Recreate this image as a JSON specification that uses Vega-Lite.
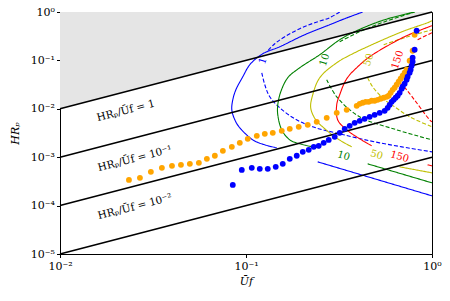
{
  "$schema": "https://vega.github.io/schema/vega-lite/v6.json",
  "autosize": {"type": "none"},
  "padding": {"left": 60, "top": 12, "right": 18, "bottom": 47},
  "width": 372,
  "height": 242,
  "config": {
    "font": "DejaVu Serif",
    "view": {"stroke": "black", "strokeWidth": 1},
    "axis": {"grid": false, "domainColor": "black", "tickColor": "black", "labelColor": "black", "titleColor": "black", "labelFont": "DejaVu Serif", "titleFont": "DejaVu Serif", "labelFontSize": 11, "titleFontSize": 11, "titleFontWeight": "normal", "tickSize": 3.5, "domainWidth": 1, "tickWidth": 1}
  },
  "datasets": {
    "gray": [{"x": 0.01, "y": 0.01, "top": 1}, {"x": 1, "y": 1, "top": 1}],
    "ratios": [
      {"ratio": "1", "x": 0.01, "y": 0.01}, {"ratio": "1", "x": 1, "y": 1},
      {"ratio": "0.1", "x": 0.01, "y": 0.001}, {"ratio": "0.1", "x": 1, "y": 0.1},
      {"ratio": "0.01", "x": 0.01, "y": 0.0001}, {"ratio": "0.01", "x": 1, "y": 0.01},
      {"ratio": "0.001", "x": 0.01, "y": 0.00001}, {"ratio": "0.001", "x": 1, "y": 0.001}
    ],
    "ratioLabels": [
      {"label": "HRₚ/Ūf = 1", "x": 0.02262, "y": 0.00909},
      {"label": "HRₚ/Ūf = 10⁻¹", "x": 0.02528, "y": 0.000924},
      {"label": "HRₚ/Ūf = 10⁻²", "x": 0.02528, "y": 0.000094}
    ],
    "curves": [
      {"Re": "1", "kind": "A", "seg": "1A1", "i": 0, "x": 0.424, "y": 1.0},
      {"Re": "1", "kind": "A", "seg": "1A1", "i": 1, "x": 0.3393, "y": 0.727},
      {"Re": "1", "kind": "A", "seg": "1A1", "i": 2, "x": 0.2818, "y": 0.546},
      {"Re": "1", "kind": "A", "seg": "1A1", "i": 3, "x": 0.207, "y": 0.3393},
      {"Re": "1", "kind": "A", "seg": "1A1", "i": 4, "x": 0.1519, "y": 0.1915},
      {"Re": "1", "kind": "A", "seg": "1A1", "i": 5, "x": 0.1231, "y": 0.1372},
      {"Re": "1", "kind": "A", "seg": "1A1", "i": 6, "x": 0.1048, "y": 0.0813},
      {"Re": "1", "kind": "A", "seg": "1A1", "i": 7, "x": 0.0961, "y": 0.0459},
      {"Re": "1", "kind": "A", "seg": "1A1", "i": 8, "x": 0.0882, "y": 0.0247},
      {"Re": "1", "kind": "A", "seg": "1A1", "i": 9, "x": 0.0849, "y": 0.0153},
      {"Re": "1", "kind": "A", "seg": "1A1", "i": 10, "x": 0.0839, "y": 0.00953},
      {"Re": "1", "kind": "A", "seg": "1A1", "i": 11, "x": 0.0871, "y": 0.00592},
      {"Re": "1", "kind": "A", "seg": "1A1", "i": 12, "x": 0.0926, "y": 0.00405},
      {"Re": "1", "kind": "A", "seg": "1A1", "i": 13, "x": 0.1088, "y": 0.00228},
      {"Re": "1", "kind": "A", "seg": "1A1", "i": 14, "x": 0.1262, "y": 0.0018},
      {"Re": "1", "kind": "A", "seg": "1A1", "i": 15, "x": 0.1463, "y": 0.00156},
      {"Re": "1", "kind": "A", "seg": "1A2", "i": 0, "x": 0.243, "y": 0.000801},
      {"Re": "1", "kind": "A", "seg": "1A2", "i": 1, "x": 1.0, "y": 0.000159},
      {"Re": "1", "kind": "B", "seg": "1B1", "i": 0, "x": 0.319, "y": 1.0},
      {"Re": "1", "kind": "B", "seg": "1B1", "i": 1, "x": 0.2818, "y": 0.762},
      {"Re": "1", "kind": "B", "seg": "1B1", "i": 2, "x": 0.2342, "y": 0.601},
      {"Re": "1", "kind": "B", "seg": "1B1", "i": 3, "x": 0.1945, "y": 0.4515},
      {"Re": "1", "kind": "B", "seg": "1B1", "i": 4, "x": 0.1616, "y": 0.3084},
      {"Re": "1", "kind": "B", "seg": "1B1", "i": 5, "x": 0.1428, "y": 0.221},
      {"Re": "1", "kind": "B", "seg": "1B1", "i": 6, "x": 0.1309, "y": 0.1583},
      {"Re": "1", "kind": "B", "seg": "1B2", "i": 0, "x": 0.1216, "y": 0.0555},
      {"Re": "1", "kind": "B", "seg": "1B2", "i": 1, "x": 0.1262, "y": 0.0314},
      {"Re": "1", "kind": "B", "seg": "1B2", "i": 2, "x": 0.1342, "y": 0.0177},
      {"Re": "1", "kind": "B", "seg": "1B2", "i": 3, "x": 0.1519, "y": 0.01049},
      {"Re": "1", "kind": "B", "seg": "1B2", "i": 4, "x": 0.1829, "y": 0.00621},
      {"Re": "1", "kind": "B", "seg": "1B2", "i": 5, "x": 0.2285, "y": 0.00424},
      {"Re": "1", "kind": "B", "seg": "1B2", "i": 6, "x": 0.319, "y": 0.00304},
      {"Re": "1", "kind": "B", "seg": "1B2", "i": 7, "x": 0.5232, "y": 0.00198},
      {"Re": "1", "kind": "B", "seg": "1B2", "i": 8, "x": 1.0, "y": 0.00129},
      {"Re": "10", "kind": "A", "seg": "10A1", "i": 0, "x": 0.8065, "y": 1.0},
      {"Re": "10", "kind": "A", "seg": "10A1", "i": 1, "x": 0.5565, "y": 0.693},
      {"Re": "10", "kind": "A", "seg": "10A1", "i": 2, "x": 0.3937, "y": 0.4104},
      {"Re": "10", "kind": "A", "seg": "10A1", "i": 3, "x": 0.319, "y": 0.2674},
      {"Re": "10", "kind": "A", "seg": "10A1", "i": 4, "x": 0.2491, "y": 0.1308},
      {"Re": "10", "kind": "A", "seg": "10A1", "i": 5, "x": 0.1945, "y": 0.0705},
      {"Re": "10", "kind": "A", "seg": "10A1", "i": 6, "x": 0.1677, "y": 0.0438},
      {"Re": "10", "kind": "A", "seg": "10A1", "i": 7, "x": 0.1538, "y": 0.0225},
      {"Re": "10", "kind": "A", "seg": "10A1", "i": 8, "x": 0.1482, "y": 0.0121},
      {"Re": "10", "kind": "A", "seg": "10A1", "i": 9, "x": 0.1482, "y": 0.00751},
      {"Re": "10", "kind": "A", "seg": "10A1", "i": 10, "x": 0.1557, "y": 0.00368},
      {"Re": "10", "kind": "A", "seg": "10A1", "i": 11, "x": 0.1719, "y": 0.00228},
      {"Re": "10", "kind": "A", "seg": "10A1", "i": 12, "x": 0.1945, "y": 0.00189},
      {"Re": "10", "kind": "A", "seg": "10A1", "i": 13, "x": 0.2285, "y": 0.00164},
      {"Re": "10", "kind": "A", "seg": "10A1", "i": 14, "x": 0.2491, "y": 0.00156},
      {"Re": "10", "kind": "A", "seg": "10A2", "i": 0, "x": 0.4509, "y": 0.000729},
      {"Re": "10", "kind": "A", "seg": "10A2", "i": 1, "x": 1.0, "y": 0.000295},
      {"Re": "10", "kind": "B", "seg": "10B1", "i": 0, "x": 0.319, "y": 0.243},
      {"Re": "10", "kind": "B", "seg": "10B1", "i": 1, "x": 0.4086, "y": 0.3914},
      {"Re": "10", "kind": "B", "seg": "10B1", "i": 2, "x": 0.5565, "y": 0.63},
      {"Re": "10", "kind": "B", "seg": "10B1", "i": 3, "x": 0.8065, "y": 1.0},
      {"Re": "10", "kind": "B", "seg": "10B2", "i": 0, "x": 0.2716, "y": 0.0398},
      {"Re": "10", "kind": "B", "seg": "10B2", "i": 1, "x": 0.3074, "y": 0.0177},
      {"Re": "10", "kind": "B", "seg": "10B2", "i": 2, "x": 0.4086, "y": 0.00683},
      {"Re": "10", "kind": "B", "seg": "10B2", "i": 3, "x": 0.6456, "y": 0.00368},
      {"Re": "10", "kind": "B", "seg": "10B2", "i": 4, "x": 1.0, "y": 0.00228},
      {"Re": "50", "kind": "A", "seg": "50A1", "i": 0, "x": 1.0, "y": 0.661},
      {"Re": "50", "kind": "A", "seg": "50A1", "i": 1, "x": 0.9471, "y": 0.601},
      {"Re": "50", "kind": "A", "seg": "50A1", "i": 2, "x": 0.7126, "y": 0.4104},
      {"Re": "50", "kind": "A", "seg": "50A1", "i": 3, "x": 0.5775, "y": 0.2941},
      {"Re": "50", "kind": "A", "seg": "50A1", "i": 4, "x": 0.4622, "y": 0.2009},
      {"Re": "50", "kind": "A", "seg": "50A1", "i": 5, "x": 0.384, "y": 0.1439},
      {"Re": "50", "kind": "A", "seg": "50A1", "i": 6, "x": 0.3074, "y": 0.0894},
      {"Re": "50", "kind": "A", "seg": "50A1", "i": 7, "x": 0.2491, "y": 0.0438},
      {"Re": "50", "kind": "A", "seg": "50A1", "i": 8, "x": 0.2285, "y": 0.0195},
      {"Re": "50", "kind": "A", "seg": "50A1", "i": 9, "x": 0.2228, "y": 0.01049},
      {"Re": "50", "kind": "A", "seg": "50A1", "i": 10, "x": 0.2371, "y": 0.00592},
      {"Re": "50", "kind": "A", "seg": "50A1", "i": 11, "x": 0.2617, "y": 0.00405},
      {"Re": "50", "kind": "A", "seg": "50A1", "i": 12, "x": 0.3112, "y": 0.0024},
      {"Re": "50", "kind": "A", "seg": "50A1", "i": 13, "x": 0.3701, "y": 0.00164},
      {"Re": "50", "kind": "A", "seg": "50A2", "i": 0, "x": 0.6699, "y": 0.000632},
      {"Re": "50", "kind": "A", "seg": "50A2", "i": 1, "x": 1.0, "y": 0.000475},
      {"Re": "50", "kind": "B", "seg": "50B1", "i": 0, "x": 0.5497, "y": 0.2107},
      {"Re": "50", "kind": "B", "seg": "50B1", "i": 1, "x": 0.7126, "y": 0.2941},
      {"Re": "50", "kind": "B", "seg": "50B1", "i": 2, "x": 1.0, "y": 0.4304},
      {"Re": "50", "kind": "B", "seg": "50B2", "i": 0, "x": 0.4509, "y": 0.0438},
      {"Re": "50", "kind": "B", "seg": "50B2", "i": 1, "x": 0.4797, "y": 0.0285},
      {"Re": "50", "kind": "B", "seg": "50B2", "i": 2, "x": 0.5565, "y": 0.0153},
      {"Re": "50", "kind": "B", "seg": "50B2", "i": 3, "x": 0.6298, "y": 0.011},
      {"Re": "50", "kind": "B", "seg": "50B2", "i": 4, "x": 0.7582, "y": 0.00683},
      {"Re": "50", "kind": "B", "seg": "50B2", "i": 5, "x": 1.0, "y": 0.00424},
      {"Re": "150", "kind": "A", "seg": "150A1", "i": 0, "x": 1.0, "y": 0.521},
      {"Re": "150", "kind": "A", "seg": "150A1", "i": 1, "x": 0.7305, "y": 0.3235},
      {"Re": "150", "kind": "A", "seg": "150A1", "i": 2, "x": 0.5775, "y": 0.2009},
      {"Re": "150", "kind": "A", "seg": "150A1", "i": 3, "x": 0.4622, "y": 0.119},
      {"Re": "150", "kind": "A", "seg": "150A1", "i": 4, "x": 0.3986, "y": 0.0739},
      {"Re": "150", "kind": "A", "seg": "150A1", "i": 5, "x": 0.3478, "y": 0.0417},
      {"Re": "150", "kind": "A", "seg": "150A1", "i": 6, "x": 0.319, "y": 0.0195},
      {"Re": "150", "kind": "A", "seg": "150A1", "i": 7, "x": 0.3074, "y": 0.0121},
      {"Re": "150", "kind": "A", "seg": "150A1", "i": 8, "x": 0.3112, "y": 0.00592},
      {"Re": "150", "kind": "A", "seg": "150A1", "i": 9, "x": 0.3478, "y": 0.00368},
      {"Re": "150", "kind": "A", "seg": "150A1", "i": 10, "x": 0.4086, "y": 0.0024},
      {"Re": "150", "kind": "A", "seg": "150A1", "i": 11, "x": 0.4738, "y": 0.00172},
      {"Re": "150", "kind": "A", "seg": "150A2", "i": 0, "x": 0.9471, "y": 0.000695},
      {"Re": "150", "kind": "A", "seg": "150A2", "i": 1, "x": 1.0, "y": 0.000662},
      {"Re": "150", "kind": "B", "seg": "150B1", "i": 0, "x": 0.837, "y": 0.2674},
      {"Re": "150", "kind": "B", "seg": "150B1", "i": 1, "x": 1.0, "y": 0.3731},
      {"Re": "150", "kind": "B", "seg": "150B2", "i": 0, "x": 0.6699, "y": 0.0345},
      {"Re": "150", "kind": "B", "seg": "150B2", "i": 1, "x": 0.7305, "y": 0.0247},
      {"Re": "150", "kind": "B", "seg": "150B2", "i": 2, "x": 0.8267, "y": 0.01331},
      {"Re": "150", "kind": "B", "seg": "150B2", "i": 3, "x": 0.9707, "y": 0.00592},
      {"Re": "150", "kind": "B", "seg": "150B2", "i": 4, "x": 1.0, "y": 0.00538}
    ],
    "curveLabels": [
      {"Re": "1", "text": "1", "x": 0.1231, "y": 0.0983, "dir": "up"},
      {"Re": "10", "text": "10", "x": 0.265, "y": 0.1031, "dir": "up"},
      {"Re": "50", "text": "50", "x": 0.4566, "y": 0.1031, "dir": "up"},
      {"Re": "150", "text": "150", "x": 0.6537, "y": 0.1031, "dir": "up"},
      {"Re": "10", "text": "10", "x": 0.3351, "y": 0.00107, "dir": "down"},
      {"Re": "50", "text": "50", "x": 0.5041, "y": 0.00112, "dir": "down"},
      {"Re": "150", "text": "150", "x": 0.6699, "y": 0.00102, "dir": "down"}
    ],
    "points": [
      {"set": "orange", "x": 0.02348, "y": 0.00034},
      {"set": "orange", "x": 0.0269, "y": 0.000374},
      {"set": "orange", "x": 0.0308, "y": 0.000498},
      {"set": "orange", "x": 0.0353, "y": 0.000602},
      {"set": "orange", "x": 0.04, "y": 0.000662},
      {"set": "orange", "x": 0.0447, "y": 0.000695},
      {"set": "orange", "x": 0.0499, "y": 0.000729},
      {"set": "orange", "x": 0.0558, "y": 0.000764},
      {"set": "orange", "x": 0.0616, "y": 0.000924},
      {"set": "orange", "x": 0.068, "y": 0.00107},
      {"set": "orange", "x": 0.0751, "y": 0.001353},
      {"set": "orange", "x": 0.0839, "y": 0.00164},
      {"set": "orange", "x": 0.0926, "y": 0.00198},
      {"set": "orange", "x": 0.1022, "y": 0.0024},
      {"set": "orange", "x": 0.1143, "y": 0.00276},
      {"set": "orange", "x": 0.1262, "y": 0.00304},
      {"set": "orange", "x": 0.1393, "y": 0.00319},
      {"set": "orange", "x": 0.1557, "y": 0.00351},
      {"set": "orange", "x": 0.1719, "y": 0.00386},
      {"set": "orange", "x": 0.1921, "y": 0.00424},
      {"set": "orange", "x": 0.2147, "y": 0.00467},
      {"set": "orange", "x": 0.24, "y": 0.00538},
      {"set": "orange", "x": 0.2716, "y": 0.00651},
      {"set": "orange", "x": 0.3074, "y": 0.00827},
      {"set": "orange", "x": 0.3478, "y": 0.00953},
      {"set": "orange", "x": 0.3937, "y": 0.01153},
      {"set": "orange", "x": 0.4086, "y": 0.01269},
      {"set": "orange", "x": 0.424, "y": 0.01331},
      {"set": "orange", "x": 0.44, "y": 0.01395},
      {"set": "orange", "x": 0.4566, "y": 0.01395},
      {"set": "orange", "x": 0.4738, "y": 0.01464},
      {"set": "orange", "x": 0.4917, "y": 0.01464},
      {"set": "orange", "x": 0.5103, "y": 0.0153},
      {"set": "orange", "x": 0.5297, "y": 0.0161},
      {"set": "orange", "x": 0.5497, "y": 0.0169},
      {"set": "orange", "x": 0.5704, "y": 0.0177},
      {"set": "orange", "x": 0.5848, "y": 0.01857},
      {"set": "orange", "x": 0.5995, "y": 0.0214},
      {"set": "orange", "x": 0.6144, "y": 0.0247},
      {"set": "orange", "x": 0.6298, "y": 0.0272},
      {"set": "orange", "x": 0.6456, "y": 0.0314},
      {"set": "orange", "x": 0.6617, "y": 0.0362},
      {"set": "orange", "x": 0.6783, "y": 0.0417},
      {"set": "orange", "x": 0.6952, "y": 0.0481},
      {"set": "orange", "x": 0.7126, "y": 0.0555},
      {"set": "orange", "x": 0.7305, "y": 0.0641},
      {"set": "orange", "x": 0.7582, "y": 0.0983},
      {"set": "orange", "x": 0.7868, "y": 0.1583},
      {"set": "orange", "x": 0.8065, "y": 0.3393},
      {"set": "blue", "x": 0.0849, "y": 0.000268},
      {"set": "blue", "x": 0.0949, "y": 0.000547},
      {"set": "blue", "x": 0.1074, "y": 0.000602},
      {"set": "blue", "x": 0.1186, "y": 0.000574},
      {"set": "blue", "x": 0.1309, "y": 0.000574},
      {"set": "blue", "x": 0.1445, "y": 0.000632},
      {"set": "blue", "x": 0.1576, "y": 0.000729},
      {"set": "blue", "x": 0.1719, "y": 0.000924},
      {"set": "blue", "x": 0.1874, "y": 0.00107},
      {"set": "blue", "x": 0.2019, "y": 0.00129},
      {"set": "blue", "x": 0.2174, "y": 0.00142},
      {"set": "blue", "x": 0.2313, "y": 0.00164},
      {"set": "blue", "x": 0.246, "y": 0.00172},
      {"set": "blue", "x": 0.2617, "y": 0.00198},
      {"set": "blue", "x": 0.2784, "y": 0.00228},
      {"set": "blue", "x": 0.2999, "y": 0.00264},
      {"set": "blue", "x": 0.319, "y": 0.00319},
      {"set": "blue", "x": 0.3393, "y": 0.00386},
      {"set": "blue", "x": 0.361, "y": 0.00445},
      {"set": "blue", "x": 0.384, "y": 0.00513},
      {"set": "blue", "x": 0.4086, "y": 0.00565},
      {"set": "blue", "x": 0.4345, "y": 0.00621},
      {"set": "blue", "x": 0.4622, "y": 0.00683},
      {"set": "blue", "x": 0.4917, "y": 0.00751},
      {"set": "blue", "x": 0.5232, "y": 0.00827},
      {"set": "blue", "x": 0.5565, "y": 0.00909},
      {"set": "blue", "x": 0.5775, "y": 0.01049},
      {"set": "blue", "x": 0.592, "y": 0.0121},
      {"set": "blue", "x": 0.6068, "y": 0.01395},
      {"set": "blue", "x": 0.622, "y": 0.0153},
      {"set": "blue", "x": 0.6376, "y": 0.0169},
      {"set": "blue", "x": 0.6537, "y": 0.01857},
      {"set": "blue", "x": 0.6699, "y": 0.0214},
      {"set": "blue", "x": 0.6867, "y": 0.0259},
      {"set": "blue", "x": 0.6952, "y": 0.0285},
      {"set": "blue", "x": 0.7126, "y": 0.0329},
      {"set": "blue", "x": 0.7305, "y": 0.0398},
      {"set": "blue", "x": 0.7396, "y": 0.0459},
      {"set": "blue", "x": 0.7582, "y": 0.0555},
      {"set": "blue", "x": 0.7676, "y": 0.0641},
      {"set": "blue", "x": 0.7771, "y": 0.0775},
      {"set": "blue", "x": 0.7868, "y": 0.0938},
      {"set": "blue", "x": 0.7868, "y": 0.1134},
      {"set": "blue", "x": 0.8065, "y": 0.1661},
      {"set": "blue", "x": 0.8267, "y": 0.4104}
    ]
  },
  "encoding": {
    "x": {"field": "x", "type": "quantitative", "scale": {"type": "log", "domain": [0.01, 1]},
      "axis": {"values": [0.01, 0.1, 1], "labelExpr": "datum.value < 0.05 ? '10⁻²' : datum.value < 0.5 ? '10⁻¹' : '10⁰'", "title": "Ūf", "titleFontStyle": "italic", "labelPadding": 3, "titlePadding": 4, "labelFlush": false}},
    "y": {"field": "y", "type": "quantitative", "scale": {"type": "log", "domain": [0.00001, 1]},
      "axis": {"values": [0.00001, 0.0001, 0.001, 0.01, 0.1, 1], "labelExpr": "datum.value > 0.5 ? '10⁰' : datum.value > 0.05 ? '10⁻¹' : datum.value > 0.005 ? '10⁻²' : datum.value > 0.0005 ? '10⁻³' : datum.value > 0.00005 ? '10⁻⁴' : '10⁻⁵'", "title": "HRₚ", "titleFontStyle": "italic", "labelPadding": 2, "titlePadding": 10, "labelFlush": false}}
  },
  "layer": [
    {
      "data": {"name": "gray"},
      "mark": {"type": "area", "color": "#e5e5e5", "opacity": 1},
      "encoding": {"y2": {"field": "top"}}
    },
    {
      "data": {"name": "curves"},
      "mark": {"type": "line", "strokeWidth": 1.1, "clip": true, "interpolate": "catmull-rom"},
      "encoding": {
        "detail": {"field": "seg"},
        "order": {"field": "i", "type": "quantitative"},
        "color": {"field": "Re", "type": "nominal", "scale": {"domain": ["1", "10", "50", "150"], "range": ["#0000ff", "#008000", "#bfbf00", "#ff0000"]}, "legend": null},
        "strokeDash": {"field": "kind", "type": "nominal", "scale": {"domain": ["A", "B"], "range": [[1, 0], [4, 2]]}, "legend": null}
      }
    },
    {
      "data": {"name": "ratios"},
      "mark": {"type": "line", "color": "black", "strokeWidth": 1.6},
      "encoding": {"detail": {"field": "ratio"}}
    },
    {
      "data": {"name": "ratioLabels"},
      "mark": {"type": "text", "angle": -14.5, "fontSize": 10.5, "color": "black", "align": "center", "baseline": "middle"},
      "encoding": {"text": {"field": "label"}}
    },
    {
      "data": {"name": "curveLabels"},
      "transform": [{"filter": "datum.dir == 'up'"}],
      "mark": {"type": "text", "angle": -72, "fontSize": 10, "align": "center", "baseline": "middle"},
      "encoding": {"text": {"field": "text"}, "color": {"field": "Re", "type": "nominal", "legend": null}}
    },
    {
      "data": {"name": "curveLabels"},
      "transform": [{"filter": "datum.dir == 'down'"}],
      "mark": {"type": "text", "angle": 16, "fontSize": 10, "align": "center", "baseline": "middle"},
      "encoding": {"text": {"field": "text"}, "color": {"field": "Re", "type": "nominal", "legend": null}}
    },
    {
      "data": {"name": "points"},
      "transform": [{"filter": "datum.set == 'orange'"}],
      "mark": {"type": "circle", "color": "#ffa500", "size": 34, "opacity": 1}
    },
    {
      "data": {"name": "points"},
      "transform": [{"filter": "datum.set == 'blue'"}],
      "mark": {"type": "circle", "color": "#0000ff", "size": 34, "opacity": 1}
    }
  ]
}
